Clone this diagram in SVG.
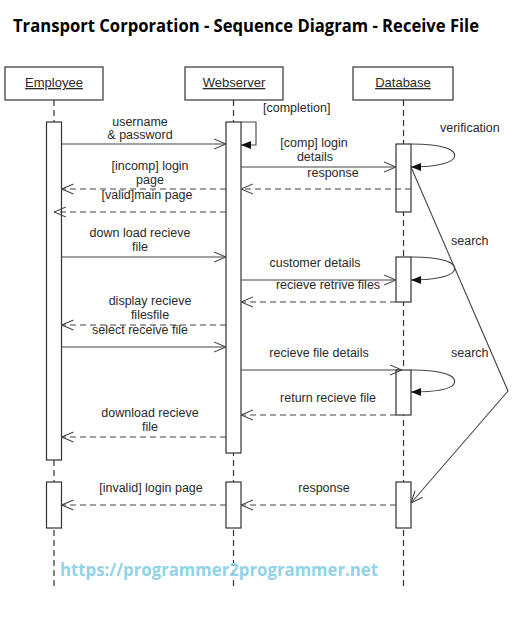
<svg xmlns="http://www.w3.org/2000/svg" width="530" height="624" viewBox="0 0 530 624">
<defs>
<style>
text{font-family:"Liberation Sans",Arial,sans-serif;fill:#2a2a2a;font-size:12.5px}
.c{text-anchor:middle}
.hd{font-size:13px;text-decoration:underline;text-anchor:middle}
.box{fill:#fff;stroke:#333;stroke-width:1.2}
.ll{stroke:#333;stroke-width:1.2;stroke-dasharray:6,4;fill:none}
.msg{stroke:#444;stroke-width:1.1;fill:none}
.dash{stroke-dasharray:6,4}
</style>
<marker id="open" viewBox="0 0 12 12" refX="12" refY="6" markerWidth="12" markerHeight="12" markerUnits="userSpaceOnUse" orient="auto">
<path d="M0,1 L12,6 L0,11" fill="none" stroke="#444" stroke-width="1.1" stroke-dasharray="none"/>
</marker>
<marker id="fill" viewBox="0 0 10 8" refX="10" refY="4" markerWidth="10" markerHeight="8" markerUnits="userSpaceOnUse" orient="auto">
<path d="M0,0 L10,4 L0,8 Z" fill="#111" stroke="none"/>
</marker>
</defs>
<rect width="530" height="624" fill="#fff"/>
<text x="13" y="32" style="font-family:'Open Sans','Liberation Sans',sans-serif;font-size:17px;font-weight:bold;fill:#000" textLength="466" lengthAdjust="spacingAndGlyphs">Transport Corporation - Sequence Diagram - Receive File</text>

<g id="lifelines">
<line class="ll" x1="54" y1="100" x2="54" y2="588"/>
<line class="ll" x1="233.5" y1="100" x2="233.5" y2="588"/>
<line class="ll" x1="403.5" y1="100" x2="403.5" y2="588"/>
</g>

<g id="employee">
<rect class="box" x="5" y="67" width="98" height="33"/>
<text class="hd" x="54" y="87">Employee</text>
<rect class="box" x="46.5" y="122" width="15" height="338"/>
<rect class="box" x="46.5" y="482" width="15" height="46"/>
</g>
<g id="webserver">
<rect class="box" x="185" y="67" width="98" height="33"/>
<text class="hd" x="234" y="87">Webserver</text>
<rect class="box" x="226" y="122" width="15" height="331"/>
<rect class="box" x="226" y="482" width="15" height="46"/>
</g>
<g id="database">
<rect class="box" x="353" y="67" width="100" height="33"/>
<text class="hd" x="403" y="87">Database</text>
<rect class="box" x="396" y="144" width="15" height="68"/>
<rect class="box" x="396" y="257" width="15" height="45"/>
<rect class="box" x="396" y="370" width="15" height="45"/>
<rect class="box" x="396" y="482" width="15" height="46"/>
</g>

<g id="connectors">
<line class="msg" x1="61.5" y1="144" x2="226" y2="144" marker-end="url(#open)"/>
<path class="msg" d="M241,122 H256 V145 H241" marker-end="url(#fill)"/>
<line class="msg" x1="241" y1="167" x2="396" y2="167" marker-end="url(#open)"/>
<line class="msg dash" x1="411" y1="189" x2="241" y2="189" marker-end="url(#open)"/>
<line class="msg dash" x1="226" y1="189" x2="61.5" y2="189" marker-end="url(#open)"/>
<line class="msg dash" x1="226" y1="212" x2="54" y2="212" marker-end="url(#open)"/>
<path class="msg" d="M411,144 C444,144 458,150 454,158 C450,164 432,167 411,167" marker-end="url(#fill)"/>
<polyline class="msg" points="411,167 508,391 411,503" marker-end="url(#open)"/>
<line class="msg" x1="61.5" y1="257" x2="226" y2="257" marker-end="url(#open)"/>
<line class="msg" x1="241" y1="280" x2="396" y2="280" marker-end="url(#open)"/>
<path class="msg" d="M411,257 C444,257 458,263 454,271 C450,277 432,280 411,280" marker-end="url(#fill)"/>
<line class="msg dash" x1="396" y1="302" x2="241" y2="302" marker-end="url(#open)"/>
<line class="msg dash" x1="226" y1="325" x2="61.5" y2="325" marker-end="url(#open)"/>
<line class="msg" x1="61.5" y1="347" x2="226" y2="347" marker-end="url(#open)"/>
<line class="msg" x1="241" y1="370" x2="402" y2="370" marker-end="url(#open)"/>
<path class="msg" d="M411,370 C444,370 458,376 454,384 C450,390 432,392 411,392" marker-end="url(#fill)"/>
<line class="msg dash" x1="396" y1="415" x2="241" y2="415" marker-end="url(#open)"/>
<line class="msg dash" x1="226" y1="437" x2="61.5" y2="437" marker-end="url(#open)"/>
<line class="msg dash" x1="226" y1="505" x2="61.5" y2="505" marker-end="url(#open)"/>
<line class="msg dash" x1="396" y1="505" x2="241" y2="505" marker-end="url(#open)"/>
</g>

<g id="labels">
<text class="c" x="140" y="126">username</text>
<text class="c" x="140" y="139">&amp; password</text>
<text x="263" y="112">[completion]</text>
<text class="c" x="314" y="147">[comp] login</text>
<text class="c" x="315" y="161">details</text>
<text class="c" x="333" y="177">response</text>
<text class="c" x="150" y="170">[incomp] login</text>
<text class="c" x="150" y="184">page</text>
<text class="c" x="147" y="199">[valid]main page</text>
<text x="440" y="132">verification</text>
<text x="451" y="245">search</text>
<text class="c" x="140" y="237">down load recieve</text>
<text class="c" x="140" y="251">file</text>
<text class="c" x="315" y="267">customer details</text>
<text class="c" x="328" y="289">recieve retrive files</text>
<text class="c" x="150" y="305">display recieve</text>
<text class="c" x="150" y="319">filesfile</text>
<text class="c" x="140" y="334">select receive file</text>
<text class="c" x="319" y="357">recieve file details</text>
<text x="451" y="357">search</text>
<text class="c" x="328" y="402">return recieve file</text>
<text class="c" x="150" y="417">download recieve</text>
<text class="c" x="150" y="431">file</text>
<text class="c" x="151" y="492">[invalid] login page</text>
<text class="c" x="324" y="492">response</text>
</g>

<text x="60" y="576" style="font-family:'Open Sans','Liberation Sans',sans-serif;font-size:18px;font-weight:bold;fill:#92d3e8" textLength="318" lengthAdjust="spacingAndGlyphs">https://programmer2programmer.net</text>
</svg>
